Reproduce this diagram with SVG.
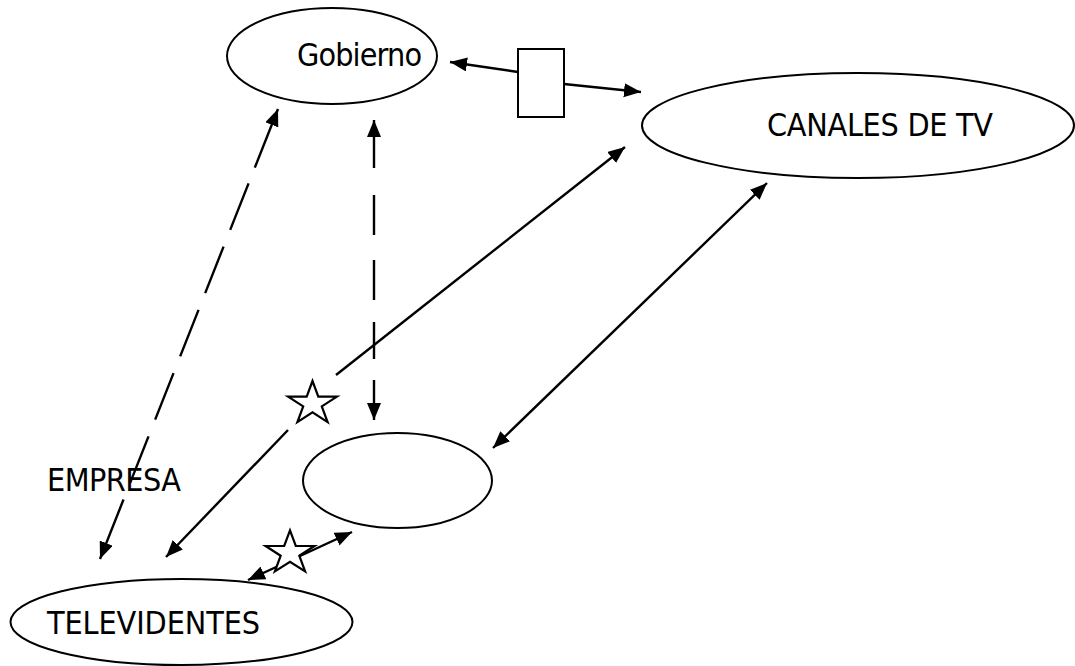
<svg xmlns="http://www.w3.org/2000/svg" width="1075" height="666" viewBox="0 0 1075 666">
  <style>
    .node { fill: #ffffff; stroke: #000000; stroke-width: 2; }
    .lbl { font-family: "DejaVu Sans Condensed", "DejaVu Sans", sans-serif; font-stretch: condensed; font-size: 32px; fill: #000000; }
    .conn { fill: none; stroke: #000000; stroke-width: 2.4; }
    .star { fill: #ffffff; stroke: #000000; stroke-width: 2.2; stroke-linejoin: miter; }
  </style>
  <defs>
    <marker id="arr" markerUnits="userSpaceOnUse" markerWidth="20" markerHeight="16" refX="17" refY="7" orient="auto-start-reverse">
      <path d="M0,0 L17,7 L0,14 z" fill="#000000"/>
    </marker>
    <polygon id="starShape" points="0,-22.7 5.8,-7 24.4,-7 9.3,2.7 15.1,18.4 0,8.7 -15.1,18.4 -9.3,2.7 -24.4,-7 -5.8,-7"/>
  </defs>
  <rect width="1075" height="666" fill="#ffffff"/>

  <g id="connectors">
    <line class="conn" x1="518" y1="72" x2="450" y2="62" marker-end="url(#arr)"/>
    <line class="conn" x1="564" y1="84" x2="641" y2="92" marker-end="url(#arr)"/>
    <line class="conn" x1="278" y1="109" x2="100" y2="559" stroke-dasharray="63 17 50 18 50 18 50 18 50 18 50 18 64 100" marker-start="url(#arr)" marker-end="url(#arr)"/>
    <line class="conn" x1="374" y1="120" x2="374" y2="420" stroke-dasharray="48 27 40 25 40 22 37 21 40 100" marker-start="url(#arr)" marker-end="url(#arr)"/>
    <line class="conn" x1="336" y1="375" x2="625" y2="147" marker-end="url(#arr)"/>
    <line class="conn" x1="288" y1="430" x2="166" y2="557" marker-end="url(#arr)"/>
    <line class="conn" x1="767" y1="183" x2="493" y2="448" marker-start="url(#arr)" marker-end="url(#arr)"/>
    <line class="conn" x1="248" y1="580" x2="352" y2="532" marker-start="url(#arr)" marker-end="url(#arr)"/>
    <use href="#starShape" class="star" transform="translate(312.5,403.7)"/>
    <use href="#starShape" class="star" transform="translate(290,553)"/>
  </g>

  <g id="gobierno">
    <ellipse class="node" cx="332" cy="56" rx="105" ry="48"/>
    <text class="lbl" x="297" y="66" textLength="125">Gobierno</text>
  </g>
  <g id="box">
    <rect class="node" x="518" y="49" width="46" height="68" stroke-width="1.5"/>
  </g>
  <g id="canales">
    <ellipse class="node" cx="858" cy="125.5" rx="216" ry="52.5"/>
    <text class="lbl" x="767" y="136" textLength="226">CANALES DE TV</text>
  </g>
  <g id="empty-node">
    <ellipse class="node" cx="397.5" cy="480.5" rx="94.5" ry="47.5"/>
  </g>
  <g id="televidentes">
    <ellipse class="node" cx="181.5" cy="622" rx="171" ry="43"/>
    <text class="lbl" x="47" y="634" textLength="213">TELEVIDENTES</text>
  </g>
  <g id="empresa">
    <text class="lbl" x="47" y="491" textLength="134">EMPRESA</text>
  </g>
</svg>
